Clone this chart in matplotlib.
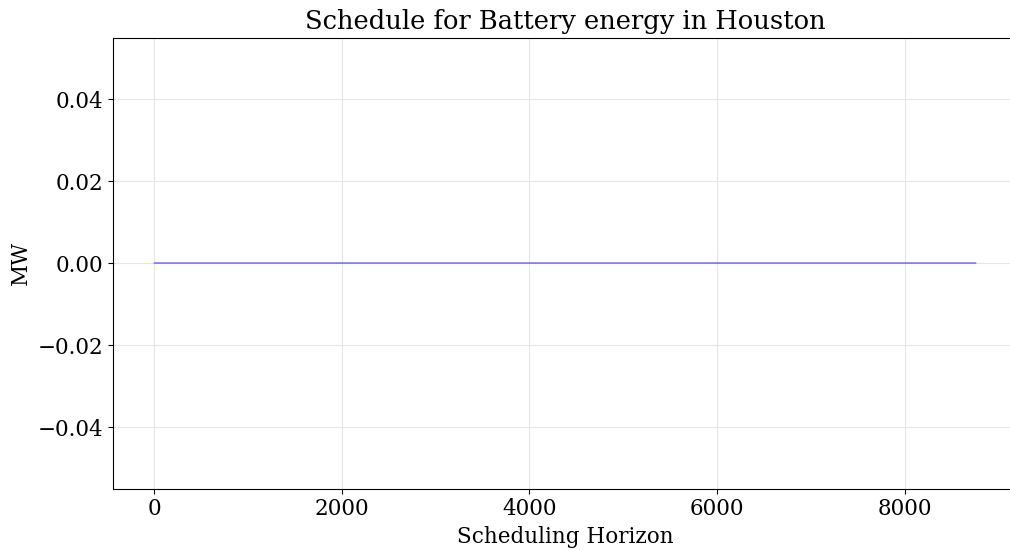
import matplotlib
matplotlib.use("Agg")
import matplotlib.pyplot as plt
import numpy as np

# Hourly battery energy schedule over one year (all zero)
hours = np.arange(8760)
battery_mw = np.zeros(8760)

plt.rcParams['font.family'] = 'DejaVu Serif'

fig = plt.figure(figsize=(10.1, 5.5), dpi=100)
ax = fig.add_axes([0.1119, 0.1118, 0.895, 0.820])

ax.plot(hours, battery_mw, color='blue', lw=0.6)

ax.set_title("Schedule for Battery energy in Houston", fontsize=18.5)
ax.set_xlabel("Scheduling Horizon", fontsize=15.5)
ax.set_ylabel("MW", fontsize=15.5)
ax.tick_params(labelsize=15.5)
ax.grid(True, color='#e6e6e6', lw=0.8)
ax.spines['right'].set_visible(False)

fig.savefig("out.png", dpi=100)
